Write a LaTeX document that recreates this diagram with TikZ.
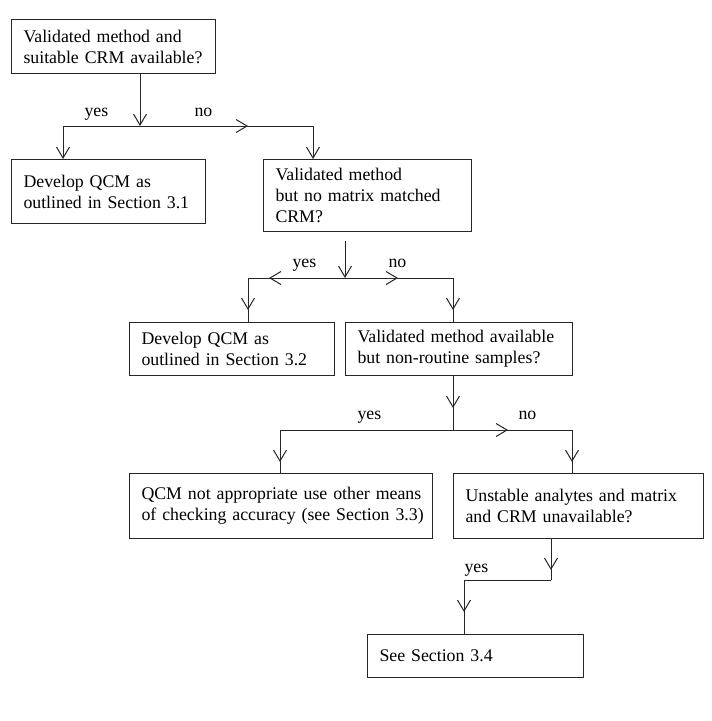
\documentclass[tikz,border=0pt]{standalone}
\usepackage{fontspec}
\setmainfont{Liberation Serif}
\usetikzlibrary{arrows.meta,decorations.markings}
\tikzset{
  box/.style={draw, anchor=north west, align=left, inner xsep=12pt, inner ysep=0pt,
    font=\fontsize{17.8}{21}\selectfont},
  lbl/.style={anchor=base west, inner sep=0pt, font=\fontsize{17.8}{21}\selectfont},
  arrowtip/.style={-{Straight Barb[length=11pt,width=13pt]}},
  arrowat/.style={postaction={decorate, decoration={markings,
    mark=at position #1pt with {\arrow{Straight Barb[length=11pt,width=13pt]}}}}}
}
\begin{document}
\begin{tikzpicture}[x=1pt,y=-1pt,line width=1pt,draw=black!85]
  \useasboundingbox (0,0) rectangle (712,721);

  % boxes
  \node[box, text width=180pt, minimum height=54pt] (q1) at (11,19)
    {Validated method and\\suitable CRM available?};
  \node[box, text width=170pt, minimum height=64pt] (d1) at (11,159)
    {Develop QCM as\\outlined in Section 3.1};
  \node[box, text width=184pt, minimum height=72pt] (q2) at (263,159)
    {Validated method\\but no matrix matched\\CRM?};
  \node[box, text width=181pt, minimum height=53pt] (d2) at (129,322)
    {Develop QCM as\\outlined in Section 3.2};
  \node[box, text width=203pt, minimum height=53pt] (q3) at (345,322)
    {Validated method available\\but non-routine samples?};
  \node[box, text width=279pt, minimum height=65pt] (d3) at (129,473)
    {\mbox{QCM not appropriate use other means}\\\mbox{of checking accuracy (see Section 3.3)}};
  \node[box, text width=226pt, minimum height=65pt] (q4) at (453,473)
    {Unstable analytes and matrix\\and CRM unavailable?};
  \node[box, text width=192pt, minimum height=43pt] (d4) at (367,634)
    {See Section 3.4};

  % junctions
  \coordinate (j1) at (140,126);
  \coordinate (j1l) at (63,126);
  \coordinate (j1r) at (313,126);
  \coordinate (j2) at (345,278);
  \coordinate (j2l) at (248,278);
  \coordinate (j2r) at (453,278);
  \coordinate (j3) at (453,430);
  \coordinate (j3l) at (280,430);
  \coordinate (j3r) at (572,430);
  \coordinate (j4) at (551,580);
  \coordinate (j4l) at (464,580);

  % connectors
  \draw[arrowtip] (q1.south -| j1) -- (j1);
  \draw[arrowtip] (j1) -- (j1l) -- (j1l |- d1.north);
  \draw[arrowtip, arrowat=108] (j1) -- (j1r) -- (j1r |- q2.north);

  \draw[arrowtip, shorten <=9pt] (q2.south -| j2) -- (j2);
  \draw[arrowat=76, arrowat=129] (j2) -- (j2l) -- (j2l |- d2.north);
  \draw[arrowat=53, arrowat=140] (j2) -- (j2r) -- (j2r |- q3.north);

  \draw[arrowat=32] (q3.south -| j3) -- (j3);
  \draw[arrowat=205] (j3) -- (j3l) -- (j3l |- d3.north);
  \draw[arrowat=55, arrowat=151] (j3) -- (j3r) -- (j3r |- q4.north);

  \draw[arrowat=31] (q4.south -| j4) -- (j4);
  \draw[arrowat=119] (j4) -- (j4l) -- (j4l |- d4.north);

  % labels
  \node[lbl] (y1) at (84,116) {yes};
  \node[lbl] (n1) at (194,116) {no};
  \node[lbl] (y2) at (292,267) {yes};
  \node[lbl] (n2) at (388,267) {no};
  \node[lbl] (y3) at (357,419) {yes};
  \node[lbl] (n3) at (518,419) {no};
  \node[lbl] (y4) at (464,572) {yes};
\end{tikzpicture}
\end{document}
